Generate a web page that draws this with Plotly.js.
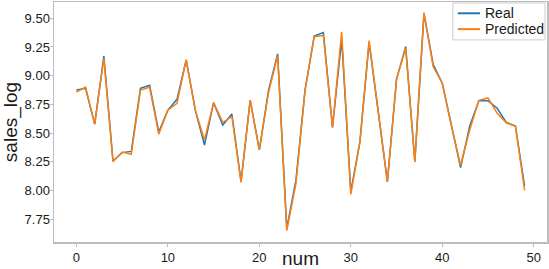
<!DOCTYPE html>
<html>
<head>
<meta charset="utf-8">
<script src="https://cdn.plot.ly/plotly-3.0.1.min.js"></script>
<style>html,body{margin:0;padding:0;background:#fff;}#chart{width:549px;height:269px;}</style>
</head>
<body>
<div id="chart"></div>
<script>
const num = [0,1,2,3,4,5,6,7,8,9,10,11,12,13,14,15,16,17,18,19,20,21,22,23,24,25,26,27,28,29,30,31,32,33,34,35,36,37,38,39,40,41,42,43,44,45,46,47,48,49];
const real = [8.875, 8.89, 8.578, 9.17, 8.257, 8.33, 8.34, 8.89, 8.916, 8.51, 8.70, 8.794, 9.137, 8.70, 8.396, 8.765, 8.57, 8.666, 8.077, 8.788, 8.353, 8.87, 9.19, 7.67, 8.09, 8.875, 9.346, 9.375, 8.55, 9.317, 7.99, 8.425, 9.29, 8.686, 8.077, 8.971, 9.253, 8.251, 9.54, 9.10, 8.934, 8.57, 8.20, 8.56, 8.782, 8.782, 8.716, 8.594, 8.562, 8.039];
const predicted = [8.858, 8.90, 8.578, 9.15, 8.25, 8.335, 8.315, 8.875, 8.90, 8.49, 8.70, 8.76, 9.137, 8.70, 8.44, 8.765, 8.594, 8.643, 8.07, 8.788, 8.353, 8.85, 9.175, 7.65, 8.06, 8.875, 9.34, 9.35, 8.55, 9.383, 7.965, 8.425, 9.305, 8.686, 8.075, 8.971, 9.24, 8.251, 9.55, 9.08, 8.934, 8.56, 8.22, 8.527, 8.785, 8.806, 8.673, 8.59, 8.56, 8.0];
const seriesNames = ["Real", "Predicted"];
const seriesColors = ["#1f77b4", "#ff7f0e"];
const xTicks = [0, 10, 20, 30, 40, 50];
const yTicks = [7.75, 8.00, 8.25, 8.50, 8.75, 9.00, 9.25, 9.50];

const FONT = "Liberation Sans, Arial, sans-serif";
const TXT = "#1a1a1a";
const traces = [
  {x: num, y: real, name: seriesNames[0], type: "scatter", mode: "lines",
   line: {color: seriesColors[0], width: 1.5}},
  {x: num, y: predicted, name: seriesNames[1], type: "scatter", mode: "lines",
   line: {color: seriesColors[1], width: 1.5}}
];
const axisCommon = {
  showgrid: false, zeroline: false, showline: true, mirror: true,
  linecolor: "#bdbdbd", linewidth: 1.5,
  ticks: "outside", ticklen: 3, tickwidth: 1, tickcolor: "#bdbdbd",
  tickfont: {family: FONT, size: 13, color: TXT}
};

// compact legend box (paper coordinates), matching the reference's legend
const legendShapes = [
  {type: "rect", xref: "paper", yref: "paper", x0: 0.809, x1: 0.996, y0: 0.842, y1: 0.996,
   fillcolor: "rgba(255,255,255,0.85)", line: {color: "#cccccc", width: 1}, layer: "above"},
  {type: "line", xref: "paper", yref: "paper", x0: 0.819, x1: 0.864, y0: 0.953, y1: 0.953,
   line: {color: seriesColors[0], width: 2}, layer: "above"},
  {type: "line", xref: "paper", yref: "paper", x0: 0.819, x1: 0.864, y0: 0.887, y1: 0.887,
   line: {color: seriesColors[1], width: 2}, layer: "above"}
];
const legendTexts = [
  {xref: "paper", yref: "paper", x: 0.870, y: 0.953, xanchor: "left", yanchor: "middle",
   text: seriesNames[0], showarrow: false, font: {family: FONT, size: 14, color: TXT}},
  {xref: "paper", yref: "paper", x: 0.870, y: 0.887, xanchor: "left", yanchor: "middle",
   text: seriesNames[1], showarrow: false, font: {family: FONT, size: 14, color: TXT}}
];

const layout = {
  width: 549, height: 269,
  margin: {l: 54, r: 2, t: 2, b: 27, pad: 0},
  paper_bgcolor: "#ffffff", plot_bgcolor: "#ffffff",
  font: {family: FONT, color: TXT},
  showlegend: false,
  shapes: legendShapes,
  annotations: legendTexts,
  xaxis: Object.assign({}, axisCommon, {
    range: [-2.45, 51.45], tickvals: xTicks,
    title: {text: "num", font: {family: FONT, size: 19, color: TXT}, standoff: 1},
    automargin: false
  }),
  yaxis: Object.assign({}, axisCommon, {
    range: [7.551, 9.642], tickvals: yTicks, tickformat: ".2f",
    ticklabelstandoff: -3,
    title: {text: "sales_log", font: {family: FONT, size: 19, color: TXT}, standoff: 6},
    automargin: false
  })
};
Plotly.newPlot("chart", traces, layout, {staticPlot: true, displayModeBar: false});
</script>
</body>
</html>
